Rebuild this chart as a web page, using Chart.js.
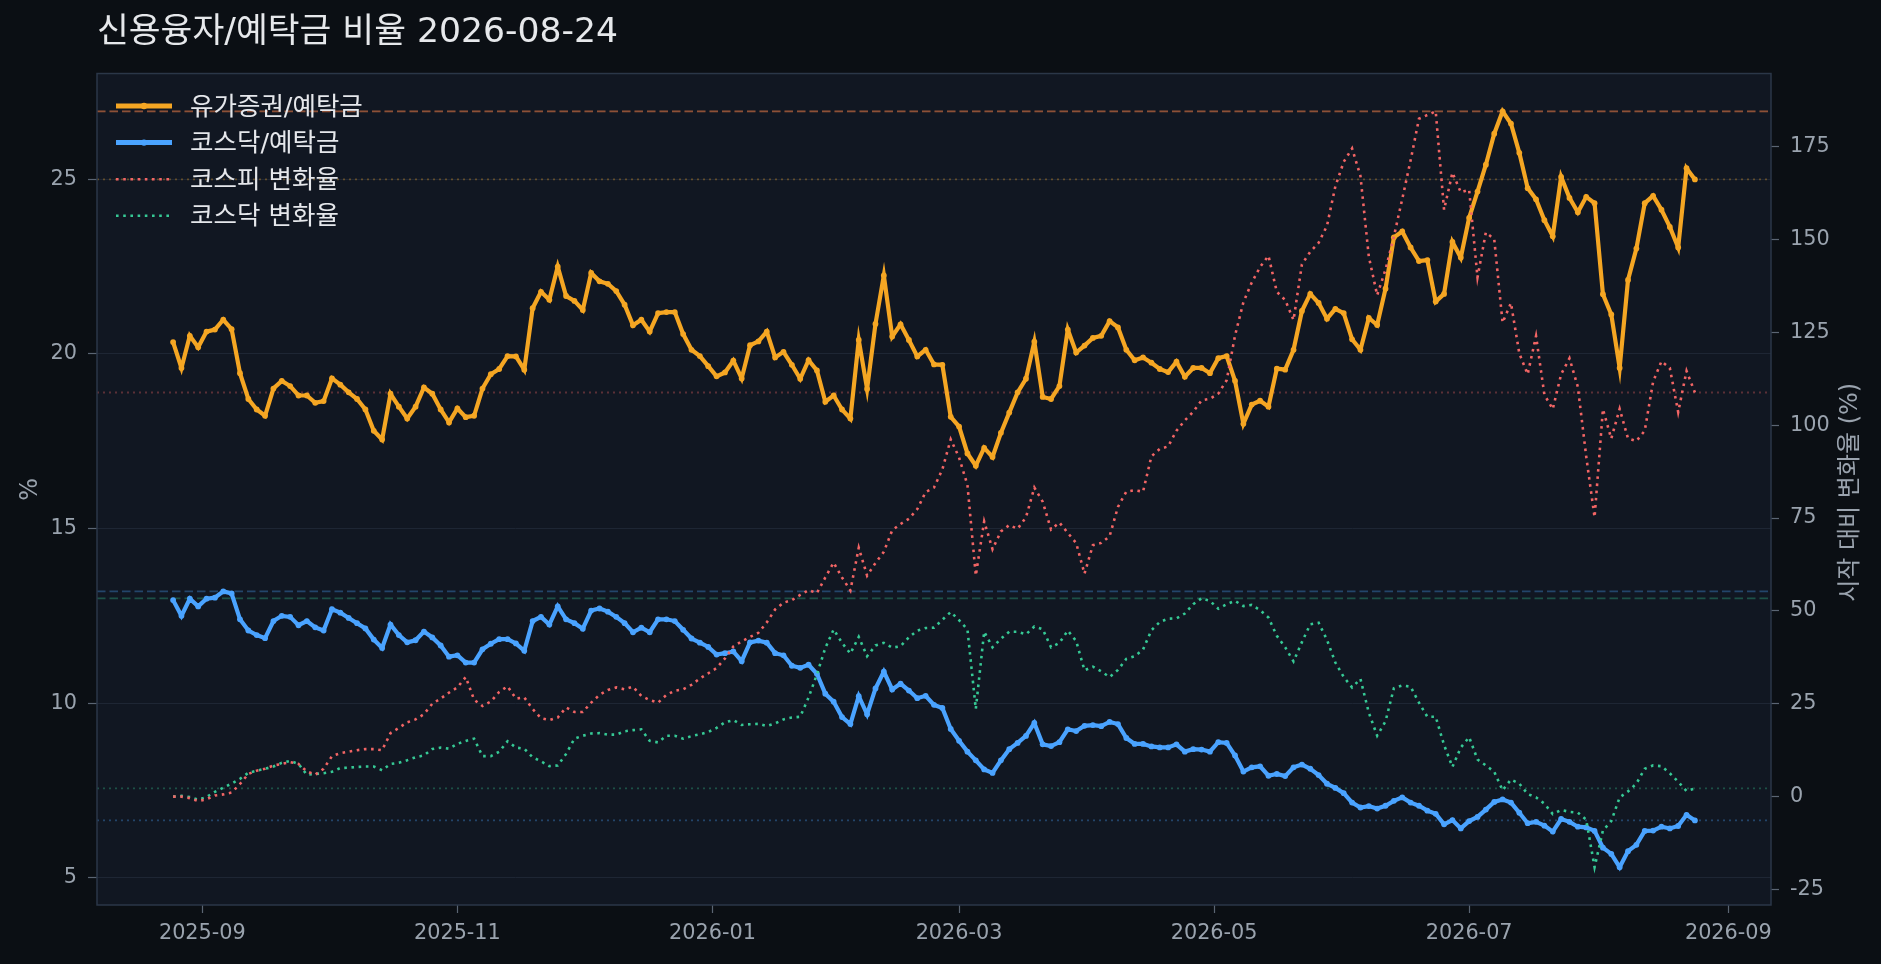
<!DOCTYPE html>
<html lang="ko">
<head>
<meta charset="utf-8">
<title>신용융자/예탁금 비율</title>
<script src="https://cdn.jsdelivr.net/npm/chart.js@4.4.1/dist/chart.umd.min.js"></script>
<style>
  html, body { margin: 0; padding: 0; background: #0b0f14; }
  #wrap { width: 1881px; height: 964px; position: relative; }
</style>
</head>
<body>
<div id="wrap"><canvas id="chart"></canvas></div>
<script>
const dates = [
  "2025-08-25","2025-08-27","2025-08-29","2025-08-31",
  "2025-09-02","2025-09-04","2025-09-06","2025-09-08","2025-09-10","2025-09-12","2025-09-14","2025-09-16",
  "2025-09-18","2025-09-20","2025-09-22","2025-09-24","2025-09-26","2025-09-28","2025-09-30",
  "2025-10-02","2025-10-04","2025-10-06","2025-10-08","2025-10-10","2025-10-12","2025-10-14","2025-10-16",
  "2025-10-18","2025-10-20","2025-10-22","2025-10-24","2025-10-26","2025-10-28","2025-10-30",
  "2025-11-01","2025-11-03","2025-11-05","2025-11-07","2025-11-09","2025-11-11","2025-11-13","2025-11-15",
  "2025-11-17","2025-11-19","2025-11-21","2025-11-23","2025-11-25","2025-11-27","2025-11-29",
  "2025-12-01","2025-12-03","2025-12-05","2025-12-07","2025-12-09","2025-12-11","2025-12-13","2025-12-15",
  "2025-12-17","2025-12-19","2025-12-21","2025-12-23","2025-12-25","2025-12-27","2025-12-29","2025-12-31",
  "2026-01-02","2026-01-04","2026-01-06","2026-01-08","2026-01-10","2026-01-12","2026-01-14","2026-01-16",
  "2026-01-18","2026-01-20","2026-01-22","2026-01-24","2026-01-26","2026-01-28","2026-01-30",
  "2026-02-01","2026-02-03","2026-02-05","2026-02-07","2026-02-09","2026-02-11","2026-02-13","2026-02-15",
  "2026-02-17","2026-02-19","2026-02-21","2026-02-23","2026-02-25","2026-02-27",
  "2026-03-01","2026-03-03","2026-03-05","2026-03-07","2026-03-09","2026-03-11","2026-03-13","2026-03-15",
  "2026-03-17","2026-03-19","2026-03-21","2026-03-23","2026-03-25","2026-03-27","2026-03-29","2026-03-31",
  "2026-04-02","2026-04-04","2026-04-06","2026-04-08","2026-04-10","2026-04-12","2026-04-14","2026-04-16",
  "2026-04-18","2026-04-20","2026-04-22","2026-04-24","2026-04-26","2026-04-28","2026-04-30",
  "2026-05-02","2026-05-04","2026-05-06","2026-05-08","2026-05-10","2026-05-12","2026-05-14","2026-05-16",
  "2026-05-18","2026-05-20","2026-05-22","2026-05-24","2026-05-26","2026-05-28","2026-05-30",
  "2026-06-01","2026-06-03","2026-06-05","2026-06-07","2026-06-09","2026-06-11","2026-06-13","2026-06-15",
  "2026-06-17","2026-06-19","2026-06-21","2026-06-23","2026-06-25","2026-06-27","2026-06-29",
  "2026-07-01","2026-07-03","2026-07-05","2026-07-07","2026-07-09","2026-07-11","2026-07-13","2026-07-15",
  "2026-07-17","2026-07-19","2026-07-21","2026-07-23","2026-07-25","2026-07-27","2026-07-29","2026-07-31",
  "2026-08-02","2026-08-04","2026-08-06","2026-08-08","2026-08-10","2026-08-12","2026-08-14","2026-08-16",
  "2026-08-18","2026-08-20","2026-08-22","2026-08-24"
];

// 유가증권/예탁금 (%)
const stockRatio = [
  20.34, 19.6, 20.52, 20.19, 20.64, 20.7, 20.98, 20.71, 19.45, 18.71, 18.41, 18.23,
  19.01, 19.23, 19.08, 18.81, 18.81, 18.6, 18.65, 19.3, 19.12, 18.9, 18.71, 18.41,
  17.8, 17.55, 18.86, 18.49, 18.15, 18.49, 19.04, 18.86, 18.41, 18.04, 18.44, 18.19,
  18.23, 19.01, 19.42, 19.57, 19.94, 19.93, 19.55, 21.31, 21.78, 21.55, 22.5, 21.66,
  21.52, 21.26, 22.32, 22.08, 22.01, 21.8, 21.41, 20.82, 20.98, 20.64, 21.17, 21.2,
  21.2, 20.57, 20.12, 19.94, 19.65, 19.36, 19.47, 19.81, 19.3, 20.25, 20.36,
  20.64, 19.9, 20.06, 19.69, 19.29, 19.82, 19.53, 18.63, 18.81, 18.41, 18.15, 20.4,
  19.0, 20.86, 22.25, 20.5, 20.85, 20.4, 19.93, 20.12, 19.7, 19.69, 18.2, 17.92,
  17.15, 16.8, 17.31, 17.05, 17.74, 18.32, 18.9, 19.29, 20.35, 18.77, 18.71,
  19.08, 20.7, 20.04, 20.24, 20.46, 20.52, 20.94, 20.76, 20.12, 19.82, 19.9, 19.75,
  19.57, 19.48, 19.78, 19.35, 19.6, 19.6, 19.45, 19.88, 19.94, 19.23, 18.0, 18.55,
  18.66, 18.49, 19.58, 19.55, 20.12, 21.23, 21.72, 21.46, 21.01, 21.29, 21.17, 20.42,
  20.12, 21.03, 20.83, 21.87, 23.34, 23.51, 23.05, 22.66, 22.69, 21.5, 21.72, 23.21,
  22.76, 23.9, 24.65, 25.42, 26.31, 26.95, 26.6, 25.76, 24.75, 24.43, 23.83, 23.37,
  25.07, 24.47, 24.06, 24.5, 24.32, 21.71, 21.13, 19.6, 22.12, 23.02, 24.32, 24.53,
  24.13, 23.64, 23.05, 25.32, 25.0
];

// 코스닥/예탁금 (%)
const kosdaqRatio = [
  12.95, 12.5, 12.99, 12.77, 12.99, 13.02, 13.2, 13.14, 12.4, 12.08, 11.95, 11.86,
  12.35, 12.5, 12.47, 12.23, 12.35, 12.17, 12.08, 12.69, 12.59, 12.44, 12.29, 12.14,
  11.82, 11.58, 12.25, 11.95, 11.74, 11.8, 12.05, 11.88, 11.65, 11.33, 11.37, 11.16,
  11.16, 11.54, 11.7, 11.83, 11.83, 11.71, 11.5, 12.35, 12.47, 12.25, 12.77, 12.4,
  12.29, 12.13, 12.65, 12.71, 12.62, 12.47, 12.29, 12.03, 12.16, 12.03, 12.4, 12.4,
  12.35, 12.1, 11.85, 11.73, 11.61, 11.39, 11.43, 11.48, 11.2, 11.74, 11.79,
  11.73, 11.43, 11.37, 11.07, 11.01, 11.1, 10.84, 10.27, 10.04, 9.6, 9.4, 10.2,
  9.68, 10.42, 10.9, 10.39, 10.56, 10.36, 10.14, 10.21, 9.95, 9.86, 9.26, 8.92,
  8.61, 8.36, 8.1, 8.0, 8.36, 8.68, 8.86, 9.06, 9.43, 8.82, 8.77,
  8.88, 9.25, 9.2, 9.35, 9.37, 9.34, 9.46, 9.4, 9.0, 8.83, 8.83, 8.76,
  8.73, 8.73, 8.82, 8.61, 8.68, 8.67, 8.61, 8.88, 8.86, 8.5, 8.04, 8.16,
  8.19, 7.92, 7.97, 7.91, 8.16, 8.24, 8.12, 7.94, 7.69, 7.57, 7.42, 7.15,
  7.01, 7.05, 6.98, 7.06, 7.2, 7.3, 7.15, 7.06, 6.92, 6.83, 6.53, 6.65,
  6.41, 6.62, 6.74, 6.95, 7.17, 7.24, 7.15, 6.86, 6.56, 6.6, 6.49, 6.32,
  6.68, 6.6, 6.46, 6.44, 6.34, 5.86, 5.68, 5.3, 5.76, 5.94, 6.34, 6.35,
  6.46, 6.41, 6.48, 6.8, 6.64
];

// 코스피 변화율 (시작 대비 %)
const kospiChange = [
  0, 0.0, -0.4, -1.2, -0.7, 0.3, 0.6, 1.1, 3.4, 6.1, 7.0, 7.5,
  8.4, 8.8, 9.3, 8.8, 6.8, 5.9, 7.5, 10.9, 11.7, 12.1, 12.5, 12.8,
  12.8, 12.5, 17.1, 18.5, 20.0, 20.8, 22.2, 25.0, 26.4, 28.0, 29.4, 32.2,
  26.1, 24.4, 25.6, 28.2, 29.7, 26.4, 26.7, 23.6, 21.1, 20.6, 21.3, 24.0,
  22.8, 22.8, 25.3, 27.4, 28.7, 29.4, 28.9, 29.6, 27.1, 26.0, 25.3, 27.4,
  28.5, 28.9, 30.1, 31.8, 33.2, 34.6, 37.2, 40.4, 41.8, 43.0, 44.1,
  46.9, 50.4, 52.2, 52.9, 54.3, 55.6, 54.8, 59.0, 63.0, 59.0, 55.5, 67.0,
  59.5, 62.9, 65.9, 71.7, 73.4, 74.8, 77.4, 82.0, 83.2, 88.1, 96.2, 91.3,
  83.9, 59.5, 74.1, 66.6, 71.4, 73.1, 72.1, 75.2, 83.2, 79.4, 71.9,
  73.8, 71.0, 68.3, 60.0, 67.7, 68.3, 70.1, 78.0, 82.1, 82.5, 82.1, 91.6,
  93.6, 94.3, 98.5, 101.3, 103.6, 106.7, 107.1, 108.5, 112.1, 124.1, 133.1, 138.4,
  142.6, 145.6, 135.9, 133.7, 128.3, 143.3, 146.7, 149.1, 153.7, 164.3, 170.9, 174.5,
  167.1, 145.4, 135.0, 141.9, 150.8, 160.9, 171.3, 182.5, 183.5, 184.5, 158.0, 168.0,
  162.7, 163.4, 139.8, 151.9, 150.1, 127.6, 132.9, 119.3, 113.7, 124.0, 108.2, 104.3,
  113.7, 118.0, 110.3, 91.6, 75.2, 104.3, 96.4, 104.4, 96.4, 95.7, 98.5, 111.7,
  117.2, 115.4, 103.5, 114.6, 108.8
];

// 코스닥 변화율 (시작 대비 %)
const kosdaqChange = [
  0, 0.2, -0.1, -0.8, -0.1, 1.3, 2.4, 3.5, 4.8, 6.4, 7.0, 7.5,
  8.1, 9.1, 9.6, 8.8, 5.9, 6.1, 6.3, 6.7, 7.7, 7.8, 8.0, 8.1,
  8.1, 7.1, 8.8, 9.1, 9.8, 10.6, 11.1, 12.8, 13.2, 12.9, 14.2, 15.0,
  15.6, 10.9, 10.9, 12.1, 14.9, 13.2, 12.9, 10.6, 9.5, 8.2, 8.4, 11.5,
  15.6, 16.4, 17.0, 17.1, 16.7, 16.7, 17.6, 17.9, 18.1, 15.0, 14.6, 16.4,
  16.4, 15.6, 16.3, 16.8, 17.4, 18.5, 20.0, 20.6, 19.3, 19.5, 19.6,
  19.0, 19.7, 20.8, 21.3, 21.5, 26.7, 32.9, 40.0, 45.0, 41.4, 38.5, 43.0,
  37.8, 40.7, 41.4, 40.1, 40.5, 42.9, 44.7, 45.4, 45.5, 47.6, 49.7, 47.5,
  45.0, 23.6, 44.4, 40.2, 42.5, 44.4, 44.4, 43.7, 45.8, 45.1, 40.2,
  41.4, 44.7, 41.9, 34.0, 35.0, 33.7, 32.2, 34.1, 37.1, 37.8, 39.6, 44.8,
  47.0, 47.9, 48.0, 49.3, 51.8, 53.4, 52.7, 50.6, 51.8, 52.7, 51.3, 51.6,
  50.2, 48.2, 43.3, 40.2, 36.4, 41.6, 46.4, 46.8, 42.2, 36.1, 32.2, 29.4,
  31.7, 22.6, 16.4, 20.3, 29.2, 29.9, 29.6, 25.3, 21.5, 21.5, 13.9, 8.0,
  13.2, 16.0, 10.0, 8.4, 6.7, 1.7, 4.6, 3.5, 0.7, -0.2, -1.9, -4.7,
  -3.6, -4.1, -4.3, -6.2, -19.0, -9.1, -6.6, -0.2, 1.4, 3.5, 7.5, 8.4,
  8.2, 6.3, 4.0, 1.5, 2.2
];

const xTickLabels = ["2025-09", "2025-11", "2026-01", "2026-03", "2026-05", "2026-07", "2026-09"];
const leftTicks = [5, 10, 15, 20, 25];
const rightTicks = [-25, 0, 25, 50, 75, 100, 125, 150, 175];

const ORANGE = "#f5a623";
const BLUE = "#4aa3ff";
const RED = "#f26565";
const GREEN = "#36c995";
const PAGE_BG = "#0b0f14";
const PLOT_BG = "#111722";
const TICK_TEXT = "#9aa3ae";
// latin glyphs from DejaVu Sans, hangul falls back to Noto Sans CJK KR
const FONT = "'DejaVu Sans', 'Noto Sans CJK KR', sans-serif";

const DAY = 86400000;
const toDay = s => Date.parse(s) / DAY;
const xs = dates.map(toDay);

function padded(arrays, frac) {
  const all = [].concat(...arrays);
  const lo = Math.min(...all), hi = Math.max(...all);
  const p = (hi - lo) * frac;
  return [lo - p, hi + p];
}
const [xMin, xMax] = padded([xs], 0.05);
const [yMin, yMax] = padded([stockRatio, kosdaqRatio], 0.05);
const [y1Min, y1Max] = padded([kospiChange, kosdaqChange], 0.05);

const pts = vals => vals.map((v, i) => ({ x: xs[i], y: v }));

const SOLID_W = 4.2;
const DOT_W = 2.6;
const DOT_DASH = [2.6, 4.6];

const legendRows = [
  { text: "유가증권/예탁금", color: ORANGE, width: SOLID_W + 0.8, dash: [], marker: true },
  { text: "코스닥/예탁금", color: BLUE, width: SOLID_W + 0.8, dash: [], marker: true },
  { text: "코스피 변화율", color: RED, width: DOT_W, dash: DOT_DASH, marker: false },
  { text: "코스닥 변화율", color: GREEN, width: DOT_W, dash: DOT_DASH, marker: false },
];

function hLine(ctx, area, y, color, dash) {
  ctx.strokeStyle = color;
  ctx.setLineDash(dash);
  ctx.beginPath();
  ctx.moveTo(area.left, y);
  ctx.lineTo(area.right, y);
  ctx.stroke();
}

// background, reference lines (max = dashed, last = dotted), frame, legend, right title
const decor = {
  id: "decor",
  beforeDraw(chart) {
    const { ctx, chartArea: a, width, height } = chart;
    ctx.save();
    ctx.fillStyle = PAGE_BG;
    ctx.fillRect(0, 0, width, height);
    ctx.fillStyle = PLOT_BG;
    ctx.fillRect(a.left, a.top, a.right - a.left, a.bottom - a.top);
    ctx.restore();
  },
  beforeDatasetsDraw(chart) {
    const { ctx, chartArea: a, scales } = chart;
    const refs = [
      [stockRatio, scales.y, ORANGE],
      [kosdaqRatio, scales.y, BLUE],
      [kospiChange, scales.y1, RED],
      [kosdaqChange, scales.y1, GREEN],
    ];
    ctx.save();
    ctx.globalAlpha = 0.33;
    ctx.lineWidth = 1.8;
    refs.forEach(([vals, scale, color]) => {
      hLine(ctx, a, scale.getPixelForValue(Math.max(...vals)), color, [8.5, 4]);
      hLine(ctx, a, scale.getPixelForValue(vals[vals.length - 1]), color, [2, 4]);
    });
    ctx.restore();
  },
  afterDraw(chart) {
    const { ctx, chartArea: a } = chart;
    ctx.save();
    ctx.strokeStyle = "#2b3748";
    ctx.lineWidth = 1.5;
    ctx.setLineDash([]);
    ctx.strokeRect(a.left, a.top, a.right - a.left, a.bottom - a.top);

    ctx.font = "25.5px " + FONT;
    ctx.textBaseline = "middle";
    legendRows.forEach((r, i) => {
      const y = a.top + 32.5 + i * 36.6;
      ctx.strokeStyle = r.color;
      ctx.lineWidth = r.width;
      ctx.setLineDash(r.dash);
      ctx.beginPath();
      ctx.moveTo(a.left + 19, y);
      ctx.lineTo(a.left + 75, y);
      ctx.stroke();
      if (r.marker) {
        ctx.fillStyle = r.color;
        ctx.beginPath();
        ctx.arc(a.left + 47, y, 3.2, 0, Math.PI * 2);
        ctx.fill();
      }
      ctx.fillStyle = "#e5e7eb";
      ctx.fillText(r.text, a.left + 93, y + 2);
    });

    ctx.translate(1851, (a.top + a.bottom) / 2 + 3);
    ctx.rotate(-Math.PI / 2);
    ctx.textAlign = "center";
    ctx.fillStyle = TICK_TEXT;
    ctx.font = "24px " + FONT;
    ctx.fillText("시작 대비 변화율 (%)", 0, 0);
    ctx.restore();
  },
};

Chart.defaults.font.family = FONT;

new Chart(document.getElementById("chart"), {
  type: "line",
  data: {
    datasets: [
      {
        label: "유가증권/예탁금",
        data: pts(stockRatio),
        yAxisID: "y",
        borderColor: ORANGE,
        backgroundColor: ORANGE,
        borderWidth: SOLID_W,
        pointRadius: 2.9,
        pointBorderWidth: 0,
        order: 1,
      },
      {
        label: "코스닥/예탁금",
        data: pts(kosdaqRatio),
        yAxisID: "y",
        borderColor: BLUE,
        backgroundColor: BLUE,
        borderWidth: SOLID_W,
        pointRadius: 2.9,
        pointBorderWidth: 0,
        order: 1,
      },
      {
        label: "코스피 변화율",
        data: pts(kospiChange),
        yAxisID: "y1",
        borderColor: RED,
        borderWidth: DOT_W,
        borderDash: DOT_DASH,
        pointRadius: 0,
        order: 0,
      },
      {
        label: "코스닥 변화율",
        data: pts(kosdaqChange),
        yAxisID: "y1",
        borderColor: GREEN,
        borderWidth: DOT_W,
        borderDash: DOT_DASH,
        pointRadius: 0,
        order: 0,
      },
    ],
  },
  options: {
    responsive: true,
    maintainAspectRatio: false,
    devicePixelRatio: 1,
    animation: false,
    events: [],
    layout: { padding: 0 },
    plugins: {
      legend: { display: false },
      tooltip: { enabled: false },
      title: {
        display: true,
        text: "신용융자/예탁금 비율 2026-08-24",
        align: "start",
        fullSize: false,
        color: "#e6e8eb",
        font: { size: 34.6, weight: "normal" },
        padding: { top: 12, bottom: 20 },
      },
    },
    scales: {
      x: {
        type: "linear",
        min: xMin,
        max: xMax,
        border: { display: false },
        grid: { display: true, drawOnChartArea: false, tickLength: 8, tickColor: "#5b6573", tickWidth: 1.2 },
        ticks: {
          color: TICK_TEXT,
          font: { size: 20.8 },
          padding: 8,
          maxRotation: 0,
          autoSkip: false,
          callback: (v, i) => xTickLabels[i],
        },
        afterBuildTicks: s => { s.ticks = xTickLabels.map(l => ({ value: toDay(l + "-01") })); },
        afterFit: s => { s.height = 59; },
      },
      y: {
        position: "left",
        min: yMin,
        max: yMax,
        border: { display: false },
        grid: { color: "#1e2634", lineWidth: 1, tickLength: 9, tickColor: "#5b6573", tickWidth: 1.2 },
        ticks: { color: TICK_TEXT, font: { size: 20.8 }, padding: 11 },
        afterBuildTicks: s => { s.ticks = leftTicks.map(v => ({ value: v })); },
        title: { display: true, text: "%", color: TICK_TEXT, font: { size: 24 }, padding: { top: 16, bottom: 0 } },
        afterFit: s => { s.width = 97; },
      },
      y1: {
        position: "right",
        min: y1Min,
        max: y1Max,
        border: { display: false },
        grid: { drawOnChartArea: false, tickLength: 8, tickColor: "#5b6573", tickWidth: 1.2 },
        ticks: { color: TICK_TEXT, font: { size: 20.8 }, padding: 11 },
        afterBuildTicks: s => { s.ticks = rightTicks.map(v => ({ value: v })); },
        afterFit: s => { s.width = 110; },
      },
    },
  },
  plugins: [decor],
});
</script>
</body>
</html>
